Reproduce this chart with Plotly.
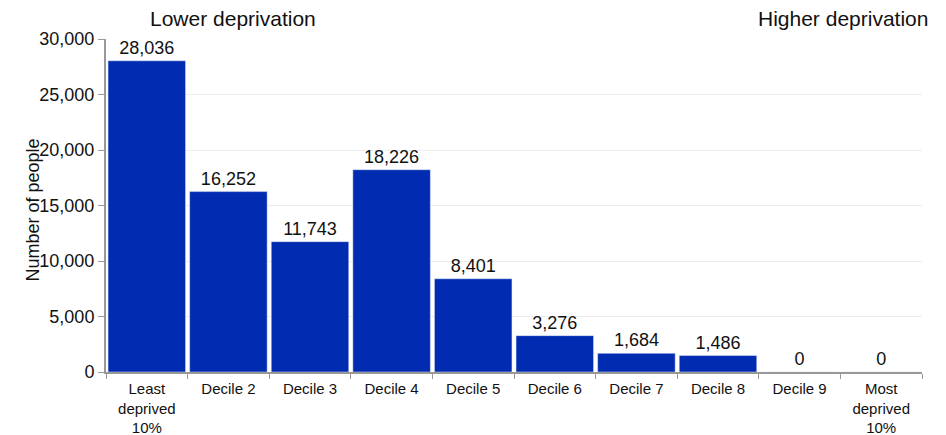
import plotly.graph_objects as go

categories = ["Least<br>deprived<br>10%", "Decile 2", "Decile 3", "Decile 4", "Decile 5",
              "Decile 6", "Decile 7", "Decile 8", "Decile 9", "Most<br>deprived<br>10%"]
people = [28036, 16252, 11743, 18226, 8401, 3276, 1684, 1486, 0, 0]
y_ticks = [0, 5000, 10000, 15000, 20000, 25000, 30000]

font = "Liberation Sans, Arial, sans-serif"

fig = go.Figure(go.Bar(
    x=categories,
    y=people,
    marker_color="#012bb1",
    text=[f"{v:,}" for v in people],
    textposition="outside",
    cliponaxis=False,
    textfont=dict(size=18, color="#111111"),
))

# page body has an 8px default margin, margins below account for that
fig.update_layout(
    width=946, height=435,
    margin=dict(l=98, r=32, t=31, b=71),
    plot_bgcolor="white", paper_bgcolor="white",
    font=dict(family=font, color="#111111"),
    bargap=0.05,
    showlegend=False,
    xaxis=dict(
        showline=True, linecolor="#999999", linewidth=2,
        ticks="outside", tickcolor="#999999", ticklen=5, tickwidth=1,
        tickson="boundaries", tickfont=dict(size=15), automargin=False,
        ticklabelstandoff=2,
    ),
    yaxis=dict(
        range=[0, 30000], tickvals=y_ticks, tickformat=",",
        showline=True, linecolor="#999999", linewidth=2,
        ticks="outside", tickcolor="#999999", ticklen=6,
        gridcolor="#ececec", tickfont=dict(size=18),
        zeroline=False, automargin=False,
    ),
    annotations=[
        dict(text="Lower deprivation", xref="paper", yref="paper", x=0.156, y=1.0,
             yshift=21, yanchor="middle", showarrow=False, font=dict(size=21),
             xanchor="center"),
        dict(text="Higher deprivation", xref="paper", yref="paper", x=1.0, y=1.0,
             yshift=21, yanchor="middle", xshift=8, showarrow=False,
             font=dict(size=21), xanchor="right"),
        dict(text="Number of people", xref="paper", yref="paper", x=0, y=0.5,
             xshift=-86, yshift=-5, textangle=-90, showarrow=False,
             font=dict(size=18)),
    ],
)

fig.write_html("out.html")
